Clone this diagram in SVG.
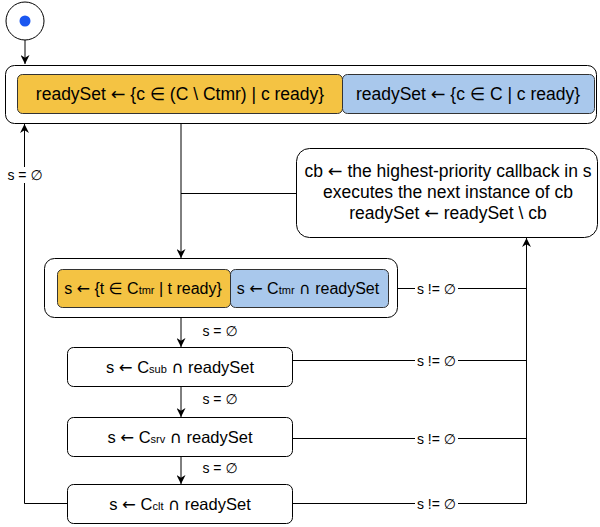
<svg xmlns="http://www.w3.org/2000/svg" width="600" height="527" viewBox="0 0 600 527">
<style>
text{font-family:"Liberation Sans",Arial,"DejaVu Sans",sans-serif;fill:#000}
.t{font-size:17.5px;text-anchor:middle}
.m{font-size:16.5px}
.s{font-size:16px}
.l{font-size:14px;text-anchor:middle}
.sub{font-size:11px}
.a{font-family:"DejaVu Sans",sans-serif}
.box{fill:#fff;stroke:#000;stroke-width:1}
.org{fill:#F4C343;stroke:#333;stroke-width:1}
.blu{fill:#A9C8EC;stroke:#333;stroke-width:1}
.c{fill:none;stroke:#000;stroke-width:1}
.bg{fill:#fff}
</style>
<defs>
<marker id="ah" viewBox="0 0 10 10" refX="10" refY="5" markerWidth="9" markerHeight="9" markerUnits="userSpaceOnUse" orient="auto">
<path d="M0,0 L10,5 L0,10 L3,5 z" fill="#000"/>
</marker>
</defs>

<g id="start">
<circle cx="25" cy="21" r="19" fill="#fff" stroke="#000"/>
<circle cx="25" cy="21" r="5.5" fill="#1A56F0"/>
</g>

<g id="init">
<rect class="box" x="5.5" y="65.5" width="591" height="58" rx="9"/>
<rect class="org" x="17.5" y="74.5" width="325" height="39" rx="5"/>
<rect class="blu" x="342.5" y="74.5" width="252" height="39" rx="5"/>
<text class="t" x="180" y="100">readySet <tspan class="a">←</tspan> {c ∈ (C \ Ctmr) | c ready}</text>
<text class="t" x="468" y="100">readySet <tspan class="a">←</tspan> {c ∈ C | c ready}</text>
</g>

<g id="exec">
<rect class="box" x="296.5" y="148.5" width="301" height="89" rx="13"/>
<text class="t" x="448" y="177">cb <tspan class="a">←</tspan> the highest-priority callback in s</text>
<text class="t" x="448" y="198">executes the next instance of cb</text>
<text class="t" x="448" y="219">readySet <tspan class="a">←</tspan> readySet \ cb</text>
</g>

<g id="timer">
<rect class="box" x="44.5" y="258.5" width="353" height="59" rx="10"/>
<rect class="org" x="57.5" y="269.5" width="173" height="38" rx="5"/>
<rect class="blu" x="230.5" y="269.5" width="158" height="38" rx="5"/>
<text class="t s" x="143" y="294">s <tspan class="a">←</tspan> {t ∈ C<tspan class="sub">tmr</tspan> | t ready}</text>
<text class="t s" x="308" y="294">s <tspan class="a">←</tspan> C<tspan class="sub">tmr</tspan> <tspan class="a">∩</tspan> readySet</text>
</g>

<g id="sub">
<rect class="box" x="67.5" y="347.5" width="225" height="39" rx="6"/>
<text class="t m" x="180" y="372.5">s <tspan class="a">←</tspan> C<tspan class="sub">sub</tspan> <tspan class="a">∩</tspan> readySet</text>
</g>

<g id="srv">
<rect class="box" x="67.5" y="417.5" width="225" height="39" rx="6"/>
<text class="t m" x="180" y="442.5">s <tspan class="a">←</tspan> C<tspan class="sub">srv</tspan> <tspan class="a">∩</tspan> readySet</text>
</g>

<g id="clt">
<rect class="box" x="67.5" y="484.5" width="225" height="39" rx="6"/>
<text class="t m" x="180" y="509.5">s <tspan class="a">←</tspan> C<tspan class="sub">clt</tspan> <tspan class="a">∩</tspan> readySet</text>
</g>

<g id="connectors">
<path class="c" d="M25,40 V64" marker-end="url(#ah)"/>
<path class="c" d="M181,124 V258" marker-end="url(#ah)"/>
<path class="c" d="M296,193.5 H181"/>
<path class="c" d="M181,318 V347" marker-end="url(#ah)"/>
<path class="c" d="M181,387 V417" marker-end="url(#ah)"/>
<path class="c" d="M181,457 V484" marker-end="url(#ah)"/>
<path class="c" d="M67,503.5 H24.5 V124" marker-end="url(#ah)"/>
<path class="c" d="M398,288.5 H526.5"/>
<path class="c" d="M293,360.5 H526.5"/>
<path class="c" d="M293,438.5 H526.5"/>
<path class="c" d="M293,503.5 H526.5 V238" marker-end="url(#ah)"/>
<rect class="bg" x="415" y="280" width="43" height="16"/>
<text class="l" x="436.5" y="293.5">s != ∅</text>
<rect class="bg" x="415" y="352" width="43" height="16"/>
<text class="l" x="436.5" y="365.5">s != ∅</text>
<rect class="bg" x="415" y="430" width="43" height="16"/>
<text class="l" x="436.5" y="443.5">s != ∅</text>
<rect class="bg" x="415" y="495" width="43" height="16"/>
<text class="l" x="436.5" y="508.5">s != ∅</text>
<text class="l" x="220" y="336">s = ∅</text>
<text class="l" x="220" y="404">s = ∅</text>
<text class="l" x="220" y="473">s = ∅</text>
<rect class="bg" x="6" y="167" width="38" height="16"/>
<text class="l" x="25" y="180">s = ∅</text>
</g>
</svg>
